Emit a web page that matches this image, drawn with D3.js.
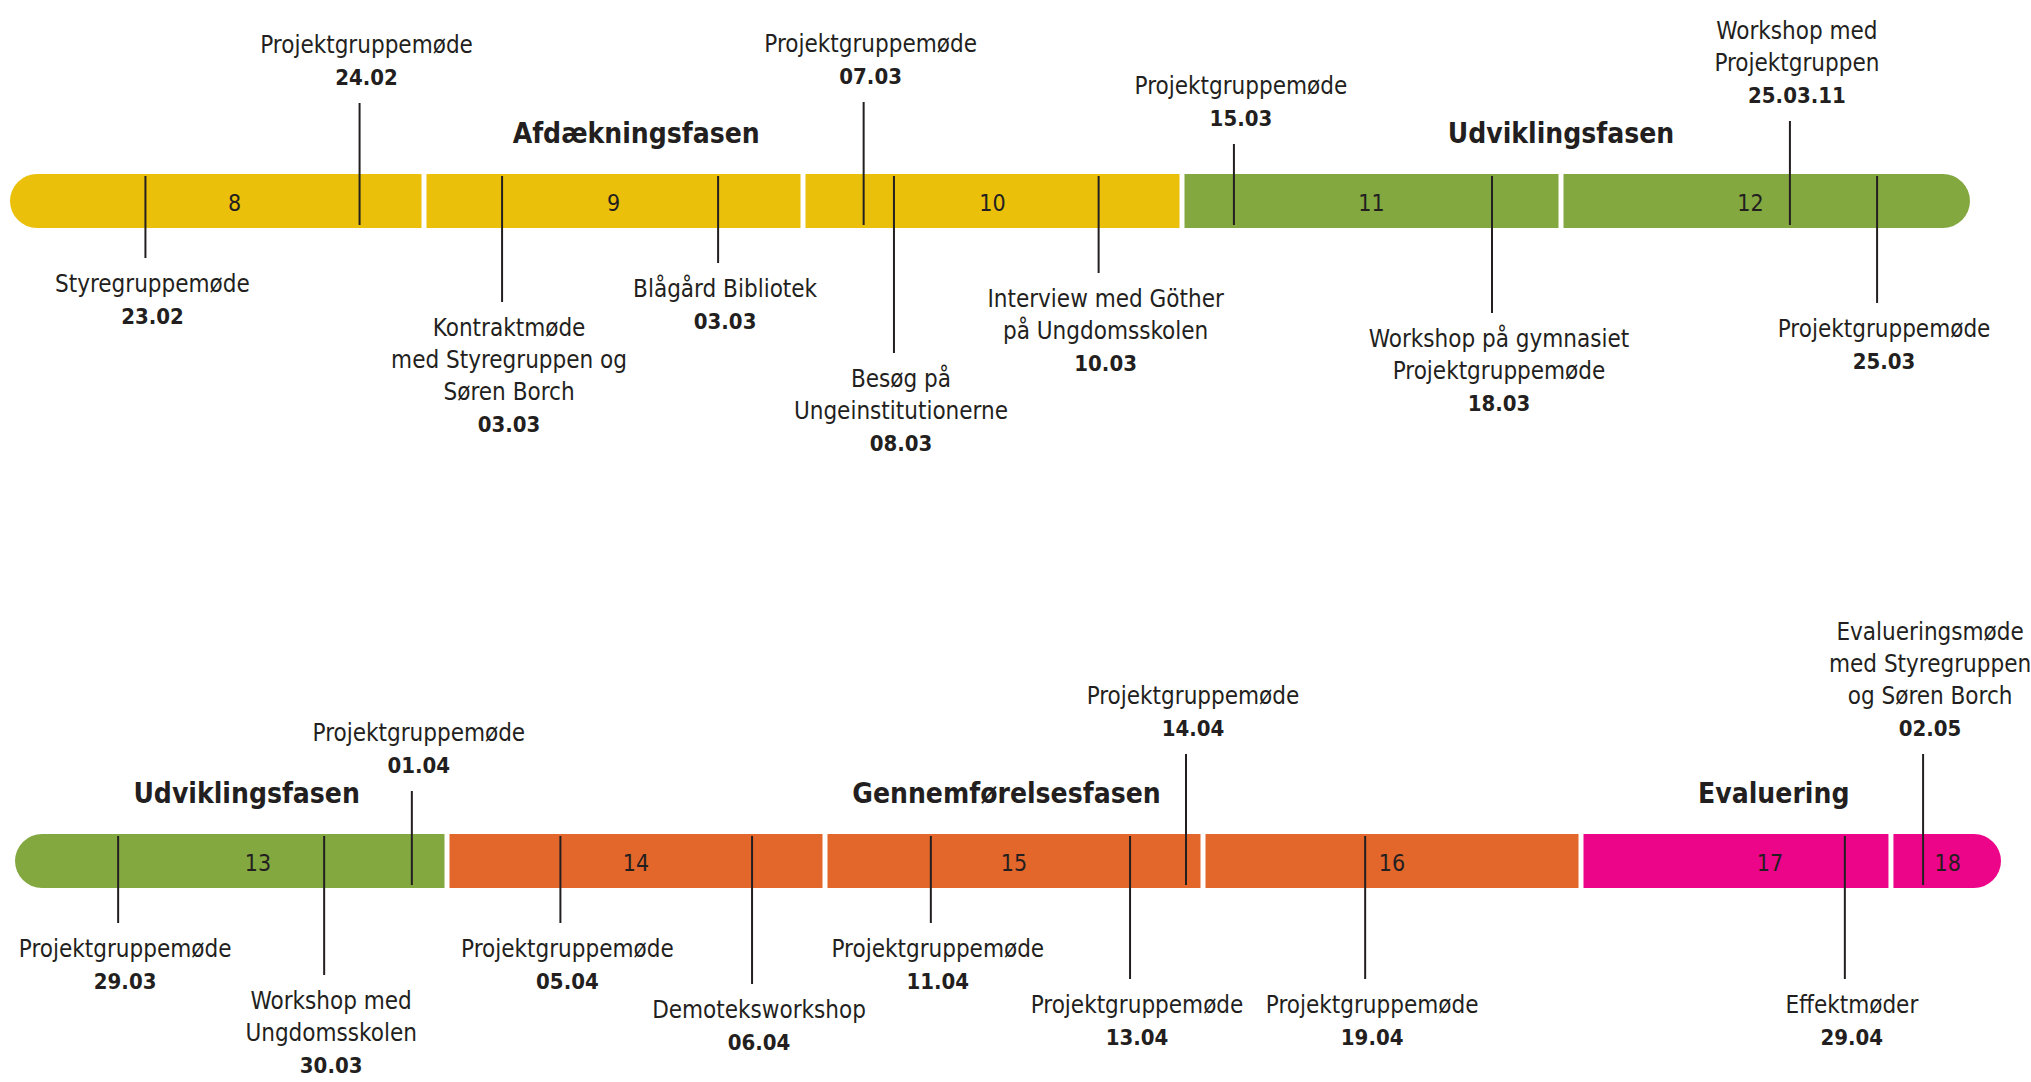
<!DOCTYPE html>
<html><head><meta charset="utf-8">
<script src="https://cdn.jsdelivr.net/npm/d3@7"></script>
<style>
html,body{margin:0;padding:0;background:#fff;}
svg{display:block;}
text{font-family:"DejaVu Sans Condensed","DejaVu Sans",sans-serif;font-stretch:condensed;fill:#231f20;}
</style></head><body>
<svg id="c" width="2031" height="1082"></svg>
<script>
// ---------- DATA ----------
const weekNumbers = [8, 9, 10, 11, 12, 13, 14, 15, 16, 17, 18];
const weekRow     = [0, 0, 0, 0, 0, 1, 1, 1, 1, 1, 1];
const weekPhase   = ["Afdækning","Afdækning","Afdækning","Udvikling","Udvikling","Udvikling",
                     "Gennemførelse","Gennemførelse","Gennemførelse","Evaluering","Evaluering"];
const weekStart   = [8, 9, 10, 11, 12, 13, 14, 15, 16, 17, 17.82];
const weekEnd     = [9, 10, 11, 12, 13, 14, 15, 16, 17, 17.82, 18];
const weekLabelAt = [8.5, 9.5, 10.5, 11.5, 12.5, 13.5, 14.5, 15.5, 16.5, 17.5, 17.97];

const phaseNames = ["Afdækningsfasen", "Udviklingsfasen", "Udviklingsfasen", "Gennemførelsesfasen", "Evaluering"];
const phaseRow   = [0, 0, 1, 1, 1];
const phaseAt    = [9.56, 12.0, 13.47, 15.48, 17.51];

const eventTitles = [
  "Styregruppemøde",
  "Projektgruppemøde",
  "Kontraktmøde\nmed Styregruppen og\nSøren Borch",
  "Blågård Bibliotek",
  "Projektgruppemøde",
  "Besøg på\nUngeinstitutionerne",
  "Interview med Göther\npå Ungdomsskolen",
  "Projektgruppemøde",
  "Workshop på gymnasiet\nProjektgruppemøde",
  "Workshop med\nProjektgruppen",
  "Projektgruppemøde",
  "Projektgruppemøde",
  "Workshop med\nUngdomsskolen",
  "Projektgruppemøde",
  "Projektgruppemøde",
  "Demoteksworkshop",
  "Projektgruppemøde",
  "Projektgruppemøde",
  "Projektgruppemøde",
  "Projektgruppemøde",
  "Effektmøder",
  "Evalueringsmøde\nmed Styregruppen\nog Søren Borch"
];
const eventDates = ["23.02","24.02","03.03","03.03","07.03","08.03","10.03","15.03","18.03","25.03.11","25.03",
                    "29.03","30.03","01.04","05.04","06.04","11.04","13.04","14.04","19.04","29.04","02.05"];
const eventRow   = [0,0,0,0,0,0,0,0,0,0,0, 1,1,1,1,1,1,1,1,1,1,1];
const eventWeek  = [8.265, 8.83, 9.206, 9.776, 10.16, 10.24, 10.78, 11.137, 11.818, 12.604, 12.834,
                    13.13, 13.675, 13.907, 14.30, 14.807, 15.28, 15.807, 15.955, 16.429, 17.698, 17.905];
const eventSide  = ["below","above","below","below","above","below","below","above","below","above","below",
                    "below","below","above","below","below","below","below","above","below","below","above"];

// ---------- LAYOUT ----------
const W = 2031, H = 1082;
const barH = 54, gap = 5;
const rows = [
  { domain: [8, 13],  range: [45, 1940], outer: [10, 1970], y: 174 },
  { domain: [13, 18], range: [69, 1959], outer: [15, 2001], y: 834 }
];
rows.forEach(r => r.x = d3.scaleLinear().domain(r.domain).range(r.range));
// stem length beyond the bar edge (px), per event
const stemLen = [30, 71, 74, 35, 72, 125, 45, 30, 85, 53, 75,
                 35, 87, 43, 35, 96, 35, 91, 80, 91, 91, 80];
const lineGap = 32, firstOff = 26, labelDx = 7;

const phaseColor = d3.scaleOrdinal()
  .domain(["Afdækning","Udvikling","Gennemførelse","Evaluering"])
  .range(["#EAC00A","#84A840","#E3662B","#EC0489"]);

const svg = d3.select("#c");
svg.append("rect").attr("width", W).attr("height", H).attr("fill", "#fff");

function segPath(x0, x1, y, h, rl, rr) {
  const p = d3.path();
  p.moveTo(x0 + rl, y);
  p.lineTo(x1 - rr, y);
  if (rr > 0) { p.arcTo(x1, y, x1, y + rr, rr); p.arcTo(x1, y + h, x1 - rr, y + h, rr); }
  else { p.lineTo(x1, y); p.lineTo(x1, y + h); }
  p.lineTo(x0 + rl, y + h);
  if (rl > 0) { p.arcTo(x0, y + h, x0, y + h - rl, rl); p.arcTo(x0, y, x0 + rl, y, rl); }
  else { p.lineTo(x0, y + h); p.lineTo(x0, y); }
  p.closePath();
  return p.toString();
}

// ---------- BARS ----------
const weeks = weekNumbers.map((n, i) => ({
  n, row: weekRow[i], phase: weekPhase[i], s: weekStart[i], e: weekEnd[i], lab: weekLabelAt[i]
}));
weeks.forEach((w, i) => {
  const r = rows[w.row];
  const sameRow = weeks.filter(d => d.row === w.row);
  const first = sameRow[0] === w, last = sameRow[sameRow.length - 1] === w;
  const x0 = first ? r.outer[0] : r.x(w.s) + gap / 2;
  const x1 = last ? r.outer[1] : r.x(w.e) - gap / 2;
  svg.append("path")
    .attr("d", segPath(x0, x1, r.y, barH, first ? barH / 2 : 0, last ? barH / 2 : 0))
    .attr("fill", phaseColor(w.phase));
  svg.append("text")
    .attr("x", r.x(w.lab)).attr("y", r.y + barH / 2 + 2)
    .attr("text-anchor", "middle").attr("dominant-baseline", "central")
    .attr("font-size", 23).text(w.n);
});

// ---------- PHASE TITLES ----------
phaseNames.forEach((name, i) => {
  const r = rows[phaseRow[i]];
  svg.append("text")
    .attr("x", r.x(phaseAt[i])).attr("y", r.y - 41)
    .attr("text-anchor", "middle").attr("dominant-baseline", "central")
    .attr("font-size", 28).attr("font-weight", "bold").text(name);
});

// ---------- EVENTS ----------
eventTitles.forEach((title, i) => {
  const r = rows[eventRow[i]];
  const x = r.x(eventWeek[i]);
  const below = eventSide[i] === "below";
  const y1 = below ? r.y + 2 : r.y - stemLen[i];
  const y2 = below ? r.y + barH + stemLen[i] : r.y + barH - 3;
  svg.append("line")
    .attr("x1", x).attr("x2", x).attr("y1", y1).attr("y2", y2)
    .attr("stroke", "#231f20").attr("stroke-width", 2);
  const lines = title.split("\n").map(t => ({ t, bold: false }));
  lines.push({ t: eventDates[i], bold: true });
  const g = svg.append("g");
  lines.forEach((ln, k) => {
    const y = below ? y2 + firstOff + k * lineGap
                    : y1 - firstOff - (lines.length - 1 - k) * lineGap;
    g.append("text")
      .attr("x", x + labelDx).attr("y", y)
      .attr("text-anchor", "middle").attr("dominant-baseline", "central")
      .attr("font-size", ln.bold ? 22 : 24)
      .attr("font-weight", ln.bold ? "bold" : "normal")
      .text(ln.t);
  });
});
</script>
</body></html>
